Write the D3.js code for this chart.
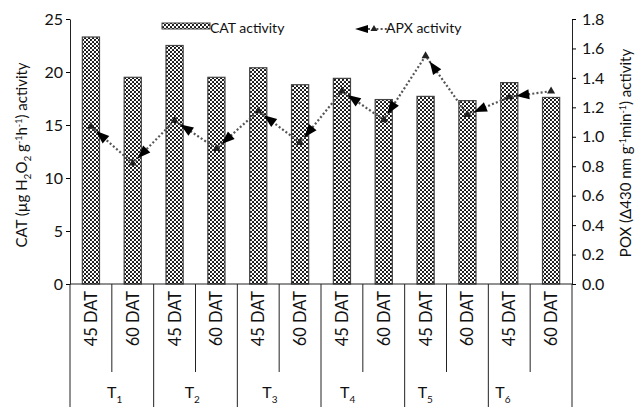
<!DOCTYPE html>
<html>
<head>
<meta charset="utf-8">
<script src="https://cdn.jsdelivr.net/npm/d3@7"></script>
<style>
  body { margin: 0; background: #fff; }
  text { font-family: "Lato", "DejaVu Sans", sans-serif; fill: #111; }
</style>
</head>
<body>
<div id="chart"></div>
<script>
// data
var treatments = ["1", "2", "3", "4", "5", "6"];
var stages = ["45 DAT", "60 DAT"];
var catValues = [23.3, 19.5, 22.5, 19.5, 20.4, 18.8, 19.4, 17.4, 17.7, 17.3, 19.0, 17.6];
var apxValues = [1.07, 0.82, 1.11, 0.92, 1.175, 0.96, 1.31, 1.115, 1.55, 1.15, 1.27, 1.31];
var leftTicks = [0, 5, 10, 15, 20, 25];
var rightTicks = [0, 0.2, 0.4, 0.6, 0.8, 1.0, 1.2, 1.4, 1.6, 1.8];

// build the rows
var data = [];
treatments.forEach(function(t, i) {
  stages.forEach(function(s, j) {
    var k = i * 2 + j;
    data.push({ key: t + "|" + s, t: t, stage: s, cat: catValues[k], apx: apxValues[k] });
  });
});

var W = 637, H = 407;
var margin = {top: 19, right: 65, bottom: 123, left: 70},
    width = W - margin.left - margin.right,
    height = H - margin.top - margin.bottom;

var svg = d3.select("#chart")
  .append("svg")
    .attr("width", W)
    .attr("height", H);

// dotted fill for the bars
var defs = svg.append("defs");
var pat = defs.append("pattern")
    .attr("id", "dots")
    .attr("patternUnits", "userSpaceOnUse")
    .attr("width", 4)
    .attr("height", 4);
pat.append("rect").attr("width", 4).attr("height", 4).attr("fill", "#fff");
pat.append("circle").attr("cx", 1).attr("cy", 1).attr("r", 1.05).attr("fill", "#000");
pat.append("circle").attr("cx", 3).attr("cy", 3).attr("r", 1.05).attr("fill", "#000");

var g = svg.append("g")
  .attr("transform", "translate(" + margin.left + "," + margin.top + ")");

// scales
var x = d3.scaleBand()
  .domain(data.map(function(d) { return d.key; }))
  .range([0, width])
  .paddingInner(0.59)
  .paddingOuter(0.295);

var slot = d3.scaleBand()
  .domain(data.map(function(d) { return d.key; }))
  .range([0, width]);

var grp = d3.scaleBand()
  .domain(treatments)
  .range([0, width]);

var y = d3.scaleLinear().domain([0, 25]).range([height, 0]);
var y2 = d3.scaleLinear().domain([0, 1.8]).range([height, 0]);

// bars
g.selectAll(".bar")
  .data(data)
  .enter()
  .append("rect")
    .attr("class", "bar")
    .attr("x", function(d) { return x(d.key); })
    .attr("width", x.bandwidth())
    .attr("y", function(d) { return y(d.cat); })
    .attr("height", function(d) { return height - y(d.cat); })
    .attr("fill", "url(#dots)")
    .attr("stroke", "#444")
    .attr("stroke-width", 1.2);

// left axis
var axL = g.append("g")
  .call(d3.axisLeft(y).tickValues(leftTicks).tickSize(4).tickSizeOuter(0).tickPadding(3));
axL.selectAll("text").attr("font-size", "16px");
axL.select(".domain").attr("stroke", "#222");

// right axis
var axR = g.append("g")
  .attr("transform", "translate(" + width + ",0)")
  .call(d3.axisRight(y2).tickValues(rightTicks).tickFormat(d3.format(".1f")).tickSize(4).tickSizeOuter(0).tickPadding(6));
axR.selectAll("text").attr("font-size", "16px");
axR.select(".domain").attr("stroke", "#222");

// baseline
g.append("line")
  .attr("x1", 0).attr("x2", width)
  .attr("y1", height).attr("y2", height)
  .attr("stroke", "#222");

// category table below the axis
var tbl = g.append("g").attr("class", "table");
data.forEach(function(d, i) {
  if (i % 2 === 1) {
    tbl.append("line")
      .attr("x1", slot(d.key)).attr("x2", slot(d.key))
      .attr("y1", height).attr("y2", height + 88)
      .attr("stroke", "#222");
  }
});
treatments.forEach(function(t) {
  tbl.append("line")
    .attr("x1", grp(t)).attr("x2", grp(t))
    .attr("y1", height).attr("y2", H - margin.top)
    .attr("stroke", "#222");
});
tbl.append("line")
  .attr("x1", width).attr("x2", width)
  .attr("y1", height).attr("y2", H - margin.top)
  .attr("stroke", "#222");

tbl.selectAll(".stage")
  .data(data)
  .enter()
  .append("text")
    .attr("class", "stage")
    .attr("transform", function(d) {
      return "translate(" + (slot(d.key) + slot.bandwidth() / 2 + 6) + "," + (height + 7) + ")rotate(-90)";
    })
    .attr("text-anchor", "end")
    .attr("font-size", "16.5px")
    .text(function(d) { return d.stage; });

treatments.forEach(function(t, i) {
  var lab = tbl.append("text")
    .attr("x", grp(t) + 37 - 6 * i)
    .attr("y", height + 114)
    .attr("font-size", "16px");
  lab.append("tspan").text("T");
  lab.append("tspan").attr("dy", 5).attr("font-size", "10px").text(t);
});

// APX line
var line = d3.line()
  .x(function(d) { return x(d.key) + x.bandwidth() / 2; })
  .y(function(d) { return y2(d.apx); });

g.append("path")
  .datum(data)
  .attr("d", line)
  .attr("fill", "none")
  .attr("stroke", "#555")
  .attr("stroke-width", 2.2)
  .attr("stroke-dasharray", "2,2.2");

// arrowheads near the start of each segment, pointing back
var pts = data.map(function(d) { return [x(d.key) + x.bandwidth() / 2, y2(d.apx)]; });
for (var i = 0; i < pts.length - 1; i++) {
  var a = pts[i], b = pts[i + 1];
  var ang = Math.atan2(b[1] - a[1], b[0] - a[0]) * 180 / Math.PI;
  g.append("path")
    .attr("d", "M-6,0L7,-5L7,5Z")
    .attr("transform", "translate(" + a[0] + "," + a[1] + ")rotate(" + ang + ")translate(13,0)")
    .attr("fill", "#000");
}

// point markers
g.selectAll(".pt")
  .data(data)
  .enter()
  .append("path")
    .attr("class", "pt")
    .attr("d", d3.symbol().type(d3.symbolTriangle).size(28))
    .attr("transform", function(d) {
      return "translate(" + (x(d.key) + x.bandwidth() / 2) + "," + y2(d.apx) + ")";
    })
    .attr("fill", "#222");

// axis titles
var tl = svg.append("text")
  .attr("transform", "translate(27,155)rotate(-90)")
  .attr("text-anchor", "middle")
  .attr("font-size", "15px");
tl.append("tspan").text("CAT (µg H");
tl.append("tspan").attr("dy", 4).attr("font-size", "10px").text("2");
tl.append("tspan").attr("dy", -4).text("O");
tl.append("tspan").attr("dy", 4).attr("font-size", "10px").text("2");
tl.append("tspan").attr("dy", -4).text(" g");
tl.append("tspan").attr("dy", -5).attr("font-size", "9px").text("-1");
tl.append("tspan").attr("dy", 5).text("h");
tl.append("tspan").attr("dy", -5).attr("font-size", "9px").text("-1");
tl.append("tspan").attr("dy", 5).text(")  activity");

var tr = svg.append("text")
  .attr("transform", "translate(631,153)rotate(-90)")
  .attr("text-anchor", "middle")
  .attr("font-size", "15px");
tr.append("tspan").text("POX (Δ430 nm g");
tr.append("tspan").attr("dy", -5).attr("font-size", "9px").text("-1");
tr.append("tspan").attr("dy", 5).text("min");
tr.append("tspan").attr("dy", -5).attr("font-size", "9px").text("-1");
tr.append("tspan").attr("dy", 5).text(")  activity");

// legend
var leg = svg.append("g");
leg.append("rect")
  .attr("x", 162).attr("y", 23)
  .attr("width", 48).attr("height", 6)
  .attr("fill", "url(#dots)")
  .attr("stroke", "#444");
leg.append("text")
  .attr("x", 210).attr("y", 33)
  .attr("font-size", "14px")
  .text("CAT activity");

leg.append("line")
  .attr("x1", 368).attr("x2", 390)
  .attr("y1", 29).attr("y2", 29)
  .attr("stroke", "#555")
  .attr("stroke-width", 2.2)
  .attr("stroke-dasharray", "2,2.2");
leg.append("path")
  .attr("d", "M355,29L368,25L368,33Z")
  .attr("fill", "#000");
leg.append("path")
  .attr("d", d3.symbol().type(d3.symbolTriangle).size(22))
  .attr("transform", "translate(374,29)")
  .attr("fill", "#222");
leg.append("text")
  .attr("x", 386).attr("y", 33)
  .attr("font-size", "14px")
  .text("APX activity");
</script>
</body>
</html>
